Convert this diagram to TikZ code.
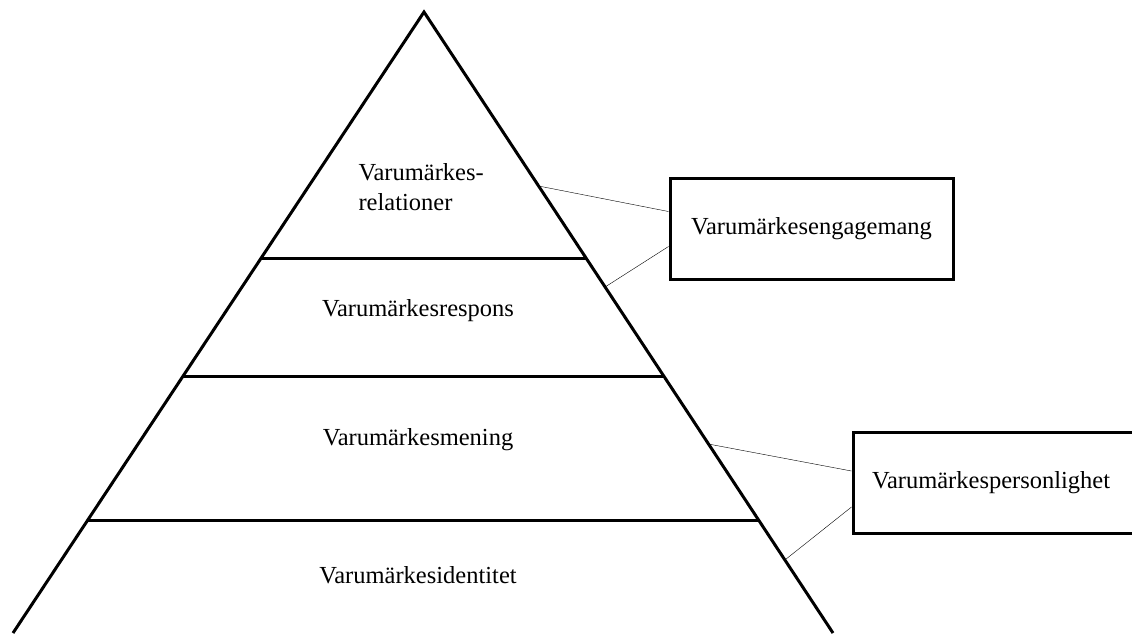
\documentclass[tikz,border=0pt]{standalone}
\usepackage{fontspec}
\setmainfont{Liberation Serif}
\usetikzlibrary{calc}

\begin{document}
\begin{tikzpicture}[x=1pt,y=-1pt,
  lbl/.style={font=\fontsize{24.5}{30}\selectfont},
  tbox/.style={draw,line width=3pt,minimum width=283pt,minimum height=101pt,lbl}]
\useasboundingbox (0,0) rectangle (1132,633);
\clip (0,0) rectangle (1132,633);
\coordinate (top) at (424,12); \coordinate (bl) at (13,633); \coordinate (br) at (833,633);
\draw[line width=3pt,line join=miter] (bl) -- (top) -- (br);
\foreach \t in {0.3977,0.5862,0.8196} \draw[line width=3pt] ($(top)!\t!(bl)$) -- ($(top)!\t!(br)$);
\node[lbl,align=left,anchor=west] (rel) at (355,187) {Varumärkes-\\relationer};
\node[lbl] (resp) at (418,311) {Varumärkesrespons};
\node[lbl] (men) at (418,440) {Varumärkesmening};
\node[lbl] (ident) at (418,575) {Varumärkesidentitet};
\node[tbox] (engage) at (811.5,228.5) {Varumärkesengagemang};
\node[tbox,text width=245pt,align=left] (person) at (994.5,483) {Varumärkespersonlighet};
\coordinate (c1) at ($(top)!0.2802!(br)$); \coordinate (c2) at ($(top)!0.4428!(br)$);
\coordinate (c3) at ($(top)!0.6957!(br)$); \coordinate (c4) at ($(top)!0.8824!(br)$);
\draw (c1) -- ([yshift=17pt]engage.west); \draw (c2) -- ([yshift=-18pt]engage.west);
\draw (c3) -- ([yshift=12pt]person.west); \draw (c4) -- ([yshift=-24pt]person.west);
\end{tikzpicture}
\end{document}
